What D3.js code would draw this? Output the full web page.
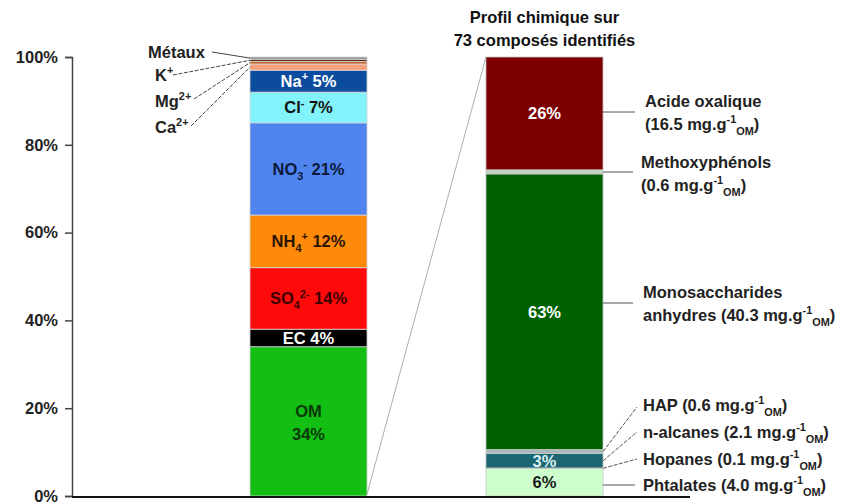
<!DOCTYPE html>
<html>
<head>
<meta charset="utf-8">
<script src="https://cdn.jsdelivr.net/npm/d3@7"></script>
<style>
  html, body { margin: 0; padding: 0; background: #fff; }
  svg text { font-family: "Liberation Sans", Arial, sans-serif; font-weight: bold; }
</style>
</head>
<body>
<svg id="chart" width="845" height="504"></svg>
<script>
// ---- Data ----
// Mass closure of PM (% of total), stacked bottom to top
const pmNames  = ["OM", "EC", "SO4", "NH4", "NO3", "Cl", "Na", "Ca", "Mg", "K", "Metaux"];
const pmValues = [34, 4, 14, 12, 21, 7, 5, 1.4, 0.6, 0.5, 0.5];
const pmColors = ["#12bf12", "#000000", "#ff0a0a", "#ff8a0a", "#4f83ee", "#82f2fb", "#0c4c9e",
                  "#f7a07a", "#c8642a", "#5a2a10", "#8a8a8a"];

// Chemical profile of OM, in mg per g of OM, stacked bottom to top
const omNames  = ["Phtalates", "Hopanes", "n-alcanes", "HAP", "Monosaccharides", "Methoxyphenols", "Acide oxalique"];
const omMass   = [4.0, 0.1, 2.1, 0.6, 40.3, 0.6, 16.5];
const omColors = ["#ccffcc", "#2a7d7d", "#1b6670", "#a9b8b8", "#006100", "#bfd6bf", "#7d0000"];

const bars = ["PM", "OM"];
const yTicks = [0, 20, 40, 60, 80, 100];

// ---- Layout ----
const FS = 16.5;
const svg = d3.select("#chart");
const y = d3.scaleLinear().domain([0, 100]).range([496, 57]);
const x = d3.scaleBand().domain(bars).range([132, 721]).paddingInner(0.504).paddingOuter(0.5);
const bw = x.bandwidth();

function stack(values) {
  let acc = 0;
  return values.map(v => { const d = { y0: acc, y1: acc + v, v }; acc += v; return d; });
}

// rich text: parts = [[text, kind]] where kind is "", "sup" or "sub"
function rich(sel, parts, size) {
  let shift = 0;
  parts.forEach(([t, k]) => {
    const target = k === "sup" ? -0.42 * size : k === "sub" ? 0.3 * size : 0;
    sel.append("tspan")
      .attr("dy", target - shift)
      .attr("font-size", k ? size * 0.66 : size)
      .text(t);
    shift = target;
  });
}

// ---- Left bar: PM composition ----
const pmStack = stack(pmValues);
const gL = svg.append("g");
gL.selectAll("rect").data(pmStack).join("rect")
  .attr("x", x("PM")).attr("width", bw)
  .attr("y", d => y(d.y1)).attr("height", d => y(d.y0) - y(d.y1))
  .attr("fill", (d, i) => pmColors[i])
  .attr("stroke", "#d6d6d6").attr("stroke-width", 0.8);

const pmLabels = {
  OM: null,
  EC:  { parts: [["EC " + pmValues[1] + "%", ""]], fill: "#fff" },
  SO4: { parts: [["SO", ""], ["4", "sub"], ["2-", "sup"], [" " + pmValues[2] + "%", ""]], fill: "#3a0000" },
  NH4: { parts: [["NH", ""], ["4", "sub"], ["+", "sup"], ["  " + pmValues[3] + "%", ""]], fill: "#2a1400" },
  NO3: { parts: [["NO", ""], ["3", "sub"], ["-", "sup"], [" " + pmValues[4] + "%", ""]], fill: "#0c1a3a" },
  Cl:  { parts: [["Cl", ""], ["-", "sup"], ["  " + pmValues[5] + "%", ""]], fill: "#111" },
  Na:  { parts: [["Na", ""], ["+", "sup"], ["  " + pmValues[6] + "%", ""]], fill: "#fff" }
};
const cxL = x("PM") + bw / 2;
pmNames.forEach((n, i) => {
  const lab = pmLabels[n];
  if (!lab) return;
  const s = pmStack[i];
  const t = gL.append("text").attr("x", cxL).attr("y", y((s.y0 + s.y1) / 2) + 6)
    .attr("text-anchor", "middle").attr("fill", lab.fill).attr("font-size", FS);
  rich(t, lab.parts, FS);
});
// OM on two lines
{
  const s = pmStack[0];
  const cy = y((s.y0 + s.y1) / 2);
  gL.append("text").attr("x", cxL).attr("y", cy - 4).attr("text-anchor", "middle")
    .attr("fill", "#0a3a0a").attr("font-size", FS).text("OM");
  gL.append("text").attr("x", cxL).attr("y", cy + 19).attr("text-anchor", "middle")
    .attr("fill", "#0a3a0a").attr("font-size", FS).text(pmValues[0] + "%");
}

// Minor species labels with leader lines
const minor = [
  { i: 10, parts: [["Métaux", ""]], tx: 148, ty: 58, lx: 212, ly: 52, dash: null },
  { i: 9,  parts: [["K", ""], ["+", "sup"]], tx: 155, ty: 81, lx: 173, ly: 75, dash: "4,1.5" },
  { i: 8,  parts: [["Mg", ""], ["2+", "sup"]], tx: 155, ty: 107, lx: 194, ly: 99, dash: "4,1.5" },
  { i: 7,  parts: [["Ca", ""], ["2+", "sup"]], tx: 155, ty: 133, lx: 191, ly: 126, dash: "4,1.5" }
];
minor.forEach(m => {
  const s = pmStack[m.i];
  gL.append("line").attr("x1", m.lx).attr("y1", m.ly)
    .attr("x2", x("PM")).attr("y2", y((s.y0 + s.y1) / 2))
    .attr("stroke", "#444").attr("stroke-width", 1)
    .attr("stroke-dasharray", m.dash);
  const t = gL.append("text").attr("x", m.tx).attr("y", m.ty)
    .attr("fill", "#222").attr("font-size", FS);
  rich(t, m.parts, FS);
});

// ---- Right bar: OM chemical profile (normalised to 100%) ----
const total = d3.sum(omMass);
const omPct = omMass.map(v => v / total * 100);
const omStack = stack(omPct);
const gR = svg.append("g");
gR.selectAll("rect").data(omStack).join("rect")
  .attr("x", x("OM")).attr("width", bw)
  .attr("y", d => y(d.y1)).attr("height", d => y(d.y0) - y(d.y1))
  .attr("fill", (d, i) => omColors[i])
  .attr("stroke", "#c8c8c8").attr("stroke-width", 0.8);

const cxR = x("OM") + bw / 2;
const pctShown = [0, 2, 4, 6];
pctShown.forEach(i => {
  const s = omStack[i];
  gR.append("text").attr("x", cxR).attr("y", y((s.y0 + s.y1) / 2) + 6)
    .attr("text-anchor", "middle").attr("font-size", FS)
    .attr("fill", i === 0 ? "#1a1a1a" : (i === 2 ? "#d8f0f0" : "#fff"))
    .text(Math.round(omPct[i]) + "%");
});

// Title above the profile bar
svg.append("text").attr("x", cxR).attr("y", 23).attr("text-anchor", "middle")
  .attr("font-size", 16.5).attr("fill", "#111").text("Profil chimique sur");
svg.append("text").attr("x", cxR).attr("y", 46).attr("text-anchor", "middle")
  .attr("font-size", 16.5).attr("fill", "#111").text("73 composés identifiés");

// Compound labels with leader lines
const unit = v => [["(" + v.toFixed(1) + " mg.g", ""], ["-1", "sup"], ["OM", "sub"], [")", ""]];
const xr = x("OM") + bw;
const compounds = [
  { i: 6, lines: [[["Acide oxalique", ""]], unit(omMass[6])], tx: 645, ty: 107, ly: 112, lx: 635 },
  { i: 5, lines: [[["Methoxyphénols", ""]], unit(omMass[5])], tx: 641, ty: 168, ly: 172, lx: 633 },
  { i: 4, lines: [[["Monosaccharides", ""]], [["anhydres ", ""]].concat(unit(omMass[4]))], tx: 643, ty: 298, ly: 303, lx: 633 },
  { i: 3, lines: [[["HAP ", ""]].concat(unit(omMass[3]))], tx: 643, ty: 411, ly: 407, lx: 637 },
  { i: 2, lines: [[["n-alcanes ", ""]].concat(unit(omMass[2]))], tx: 643, ty: 438, ly: 432, lx: 637 },
  { i: 1, lines: [[["Hopanes ", ""]].concat(unit(omMass[1]))], tx: 643, ty: 465, ly: 459, lx: 637 },
  { i: 0, lines: [[["Phtalates ", ""]].concat(unit(omMass[0]))], tx: 643, ty: 491, ly: 485, lx: 635 }
];
compounds.forEach(c => {
  const s = omStack[c.i];
  const yMid = y((s.y0 + s.y1) / 2);
  const flat = c.i >= 4 || c.i === 0;
  gR.append("line").attr("x1", xr).attr("y1", flat ? c.ly : yMid)
    .attr("x2", c.lx).attr("y2", c.ly)
    .attr("stroke", "#555").attr("stroke-width", 1)
    .attr("stroke-dasharray", flat ? null : "4,1.5");
  c.lines.forEach((parts, k) => {
    const t = gR.append("text").attr("x", c.tx).attr("y", c.ty + k * 23)
      .attr("fill", "#222").attr("font-size", FS);
    rich(t, parts, FS);
  });
});

// Connector from OM segment to the profile bar
svg.append("line")
  .attr("x1", x("PM") + bw).attr("y1", y(pmStack[0].y0) - 2)
  .attr("x2", x("OM")).attr("y2", y(100))
  .attr("stroke", "#9a9a9a").attr("stroke-width", 0.8);

// ---- Axes ----
const yAxis = svg.append("g").attr("transform", "translate(72,0)")
  .call(d3.axisLeft(y).tickValues(yTicks).tickFormat(d => d + "%").tickSize(7).tickPadding(7));
yAxis.select(".domain").attr("stroke", "#444").attr("stroke-width", 1.5);
yAxis.selectAll(".tick line").attr("stroke", "#444").attr("stroke-width", 1.5);
yAxis.selectAll(".tick text").attr("font-size", FS).attr("fill", "#222")
  .attr("font-family", "Liberation Sans, Arial, sans-serif").attr("font-weight", "bold");

svg.append("line").attr("x1", 72).attr("x2", 690).attr("y1", y(0) + 1).attr("y2", y(0) + 1)
  .attr("stroke", "#111").attr("stroke-width", 2);
</script>
</body>
</html>
